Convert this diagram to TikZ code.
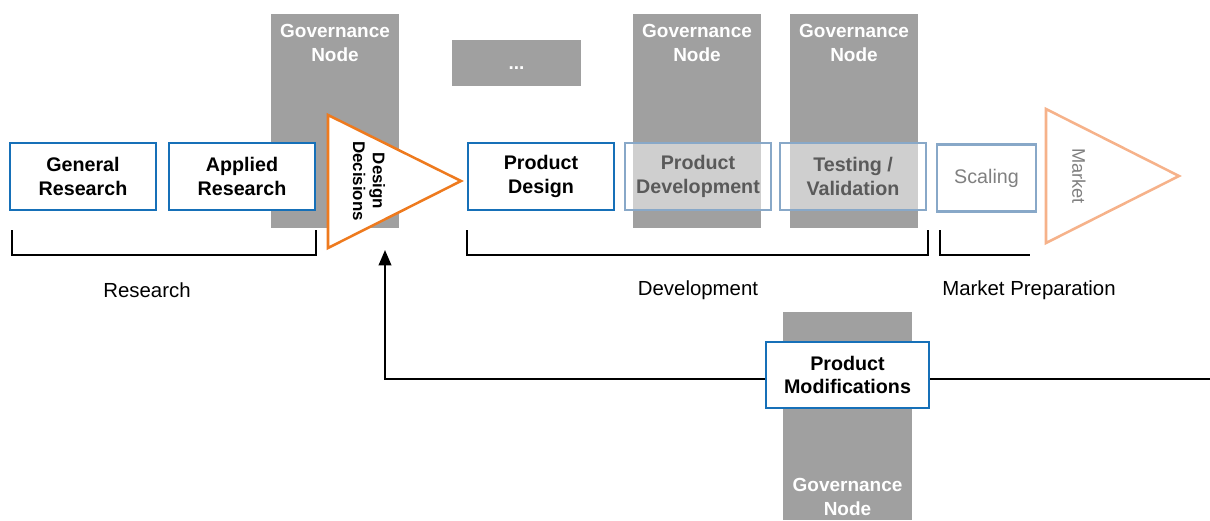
\documentclass[tikz,border=0pt]{standalone}
\usepackage{fontspec}
\setmainfont{Liberation Sans}
\usetikzlibrary{arrows.meta}

\definecolor{govgray}{HTML}{A0A0A0}
\definecolor{stageblue}{HTML}{1670B8}
\definecolor{fadeblue}{HTML}{88A8C8}
\definecolor{fadetext}{HTML}{5A5A5A}
\definecolor{decorange}{HTML}{EE7A1E}
\definecolor{mktorange}{HTML}{F6B28A}

\begin{document}
\begin{tikzpicture}[line cap=butt,line join=miter,x=0.025cm,y=-0.025cm,
  govtext/.style={text=white,font=\fontsize{13.5}{16.5}\selectfont\bfseries,align=center,inner sep=0pt},
  stage/.style={draw=stageblue,line width=1.8pt,fill=white,minimum width=3.65cm,minimum height=1.675cm,
    align=center,inner sep=0pt,font=\fontsize{14}{17}\selectfont\bfseries},
  faded/.style={stage,draw=fadeblue,fill=white,fill opacity=0.5,text opacity=1,text=fadetext},
  phase/.style={font=\fontsize{14.5}{17}\selectfont,inner sep=0pt},
  bracket/.style={line width=1.4pt,black}]
\useasboundingbox (0,0) rectangle (1210,520);

% governance columns behind the chain
\foreach \x/\nm in {271/govA,633/govB,790/govC}{
  \fill[govgray] (\x,14) rectangle ++(128,214);
  \node[govtext] (\nm) at (\x+64,43) {Governance\\Node};
}
\fill[govgray] (452,40) rectangle (581,86);
\node[govtext] (more) at (516.5,68) {...};
\fill[govgray] (783,312) rectangle (912,520);
\node[govtext] (govD) at (847.5,497) {Governance\\Node};

% stages
\node[stage] (general) at (83,176.5) {General\\Research};
\node[stage] (applied) at (242,176.5) {Applied\\Research};
\node[stage] (design) at (541,176.5) {Product\\Design};
\node[faded] (develop) at (698,176.5) {Product\\Development};
\node[faded] (testing) at (853,176.5) {Testing /\\Validation};
\node[faded,minimum width=2.475cm,text=gray,font=\fontsize{14}{17}\selectfont] (scaling) at (986.5,178) {Scaling};

% decision points
\draw[decorange,line width=1.8pt,fill=white] (328,115) -- (461,181) -- (328,248) -- cycle;
\node[rotate=-90,align=center,font=\fontsize{12}{14}\selectfont\bfseries] (decide) at (369,181) {Design\\Decisions};
\draw[mktorange,line width=1.8pt,fill=white] (1046,109) -- (1179,176) -- (1046,243) -- cycle;
\node[rotate=-90,text=gray,font=\fontsize{13}{15}\selectfont] (market) at (1079,176) {Market};

% phase brackets
\draw[bracket] (12,230) |- (316,255) -- (316,230);
\draw[bracket] (467,230) |- (928,255) -- (928,230);
\draw[bracket] (940,230) |- (1030,255);
\node[phase] (research) at (147,290) {Research};
\node[phase] (development) at (698,290) {Development};
\node[phase] (marketprep) at (1029,290) {Market Preparation};

% feedback loop
\node[stage,minimum width=4.075cm,minimum height=1.65cm] (mods) at (847.5,375) {Product\\Modifications};
\coordinate (fbin) at (1210,379);
\coordinate (fbturn) at (385,379);
\coordinate (fbtip) at (385,250);
\draw[line width=1.4pt] (fbin) -- (mods.east |- fbin);
\draw[line width=1.4pt,-{Triangle[length=11pt,width=9pt]}] (mods.west |- fbturn) -- (fbturn) -- (fbtip);
\end{tikzpicture}
\end{document}
